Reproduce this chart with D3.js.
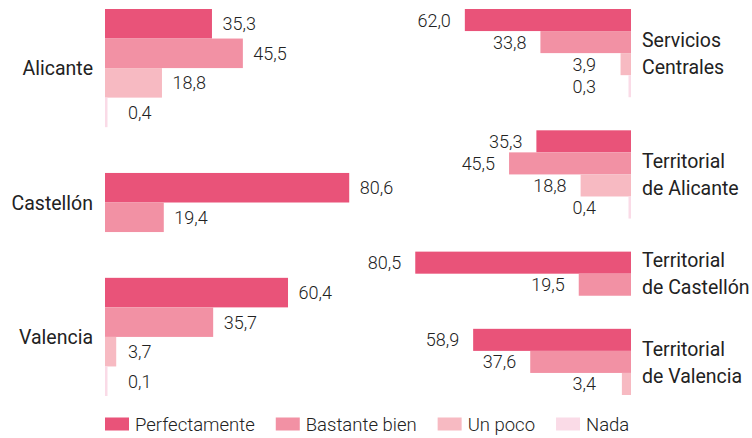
<!DOCTYPE html>
<html>
<head>
<meta charset="utf-8">
<script src="https://cdn.jsdelivr.net/npm/d3@7"></script>
<style>
  body { margin: 0; background: #fff; }
  svg text { font-family: Roboto, "Noto Sans", sans-serif; fill: #222; }
</style>
</head>
<body>
<div id="chart"></div>
<script>
const series = ["Perfectamente", "Bastante bien", "Un poco", "Nada"];
const colors = ["#e95379", "#f291a4", "#f7bac2", "#fadbe7"];

// left panel: provinces
const left_groups = ["Alicante", "Castellón", "Valencia"];
const left_values = [
  [35.3, 45.5, 18.8, 0.4]
  , [80.6, 19.4, null, null]
  , [60.4, 35.7, 3.7, 0.1]
];

// right panel: services
const right_groups = [
  ["Servicios", "Centrales"]
  , ["Territorial", "de Alicante"]
  , ["Territorial", "de Castellón"]
  , ["Territorial", "de Valencia"]
];
const right_values = [
  [62.0, 33.8, 3.9, 0.3]
  , [35.3, 45.5, 18.8, 0.4]
  , [80.5, 19.5, null, null]
  , [58.9, 37.6, 3.4, null]
];

const width = 752;
const height = 438;

const fmt = (v) => v.toFixed(1).replace(".", ",");

const svg = d3.select("#chart")
  .append("svg")
  .attr("width", width)
  .attr("height", height);

// flatten groups into rows, leaving a gap between groups
const build_rows = (values, gap) => {
  const rows = [];
  const groups = [];
  let pos = 0;
  values.forEach((vals, g) => {
    const start = pos;
    vals.forEach((v, s) => {
      if (v === null) return;
      rows.push({ g: g, s: s, v: v, pos: pos });
      pos += 1;
    });
    groups.push({ g: g, start: start, end: pos });
    pos += gap;
  });
  return { rows: rows, groups: groups, total: pos - gap };
}

/*
 * LEFT PANEL
 * */

const left_panel = () => {
  const { rows, groups, total } = build_rows(left_values, 1.55);

  const x = d3.scaleLinear().domain([0, 100]).range([105, 408]);
  const y = d3.scaleLinear().domain([0, total]).range([9, 396]);

  const g = svg.append("g");

  g.selectAll("rect")
    .data(rows)
    .enter()
    .append("rect")
    .attr("x", x(0))
    .attr("y", (d) => y(d.pos))
    .attr("width", (d) => Math.max(x(d.v) - x(0), 2.5))
    .attr("height", (d) => y(d.pos + 1) - y(d.pos))
    .attr("fill", (d) => colors[d.s]);

  g.selectAll("text.value")
    .data(rows)
    .enter()
    .append("text")
    .attr("class", "value")
    .attr("x", (d) => Math.max(x(d.v) + 10.5, x(0) + 23))
    .attr("y", (d) => y(d.pos + 0.5))
    .attr("dy", "0.36em")
    .style("font-size", "18px")
    .style("font-weight", 300)
    .text((d) => fmt(d.v));

  g.selectAll("text.cat")
    .data(groups)
    .enter()
    .append("text")
    .attr("class", "cat")
    .attr("x", 93)
    .attr("y", (d) => y((d.start + d.end) / 2))
    .attr("dy", "0.36em")
    .attr("text-anchor", "end")
    .style("font-size", "19.5px")
    .text((d) => left_groups[d.g]);
}

/*
 * RIGHT PANEL
 * */

const right_panel = () => {
  const { rows, groups, total } = build_rows(right_values, 1.5);

  const x = d3.scaleLinear().domain([0, 100]).range([631, 363]);
  const y = d3.scaleLinear().domain([0, total]).range([9, 395]);

  const g = svg.append("g");

  g.selectAll("rect")
    .data(rows)
    .enter()
    .append("rect")
    .attr("x", (d) => Math.min(x(d.v), x(0) - 2.5))
    .attr("y", (d) => y(d.pos))
    .attr("width", (d) => Math.max(x(0) - x(d.v), 2.5))
    .attr("height", (d) => y(d.pos + 1) - y(d.pos))
    .attr("fill", (d) => colors[d.s]);

  g.selectAll("text.value")
    .data(rows)
    .enter()
    .append("text")
    .attr("class", "value")
    .attr("x", (d) => Math.min(x(d.v) - 14, x(0) - 35))
    .attr("y", (d) => y(d.pos + 0.5))
    .attr("dy", "0.36em")
    .attr("text-anchor", "end")
    .style("font-size", "18px")
    .style("font-weight", 300)
    .text((d) => fmt(d.v));

  const cats = g.selectAll("text.cat")
    .data(groups)
    .enter()
    .append("text")
    .attr("class", "cat")
    .attr("x", 642)
    .attr("y", (d) => y((d.start + d.end) / 2))
    .style("font-size", "19.5px");

  cats.selectAll("tspan")
    .data((d) => right_groups[d.g].map((t, i) => ({ t: t, i: i })))
    .enter()
    .append("tspan")
    .attr("x", 642)
    .attr("dy", (d) => d.i === 0 ? "-0.32em" : "1.38em")
    .text((d) => d.t);
}

/*
 * LEGEND
 * */

const legend = () => {
  const g = svg.append("g").attr("transform", "translate(105, 424)");
  let cx = 0;
  series.forEach((name, i) => {
    g.append("rect")
      .attr("x", cx)
      .attr("y", -6.5)
      .attr("width", 24)
      .attr("height", 13)
      .attr("fill", colors[i]);
    const t = g.append("text")
      .attr("x", cx + 30)
      .attr("y", 0)
      .attr("dy", "0.36em")
      .style("font-size", "18.5px")
      .style("font-weight", 300)
      .text(name);
    cx += 30 + t.node().getComputedTextLength() + 21;
  });
}

left_panel();
right_panel();
legend();
</script>
</body>
</html>
